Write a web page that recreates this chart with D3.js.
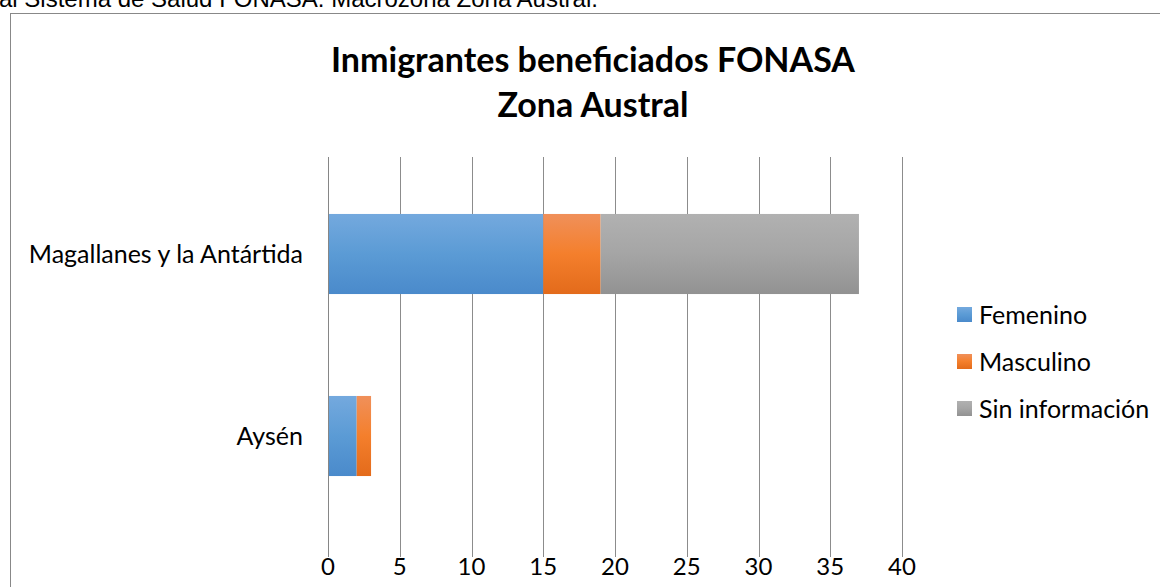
<!DOCTYPE html>
<html lang="es">
<head>
<meta charset="UTF-8">
<title>Inmigrantes beneficiados FONASA - Zona Austral</title>
<script src="https://d3js.org/d3.v7.min.js"></script>
<style>
  body, html { margin: 0; padding: 0; background: #fff; overflow: hidden; }
  svg { display: block; }
  .lbl { font-family: Lato, "Noto Sans", sans-serif; fill: #000; }
</style>
</head>
<body>
<svg></svg>
<script>
  // data
  const regions = ["Magallanes y la Antártida", "Aysén"];
  const series = ["Femenino", "Masculino", "Sin información"];
  const femenino = [15, 2];
  const masculino = [4, 1];
  const sinInfo = [18, 0];
  const xTicks = [0, 5, 10, 15, 20, 25, 30, 35, 40];

  const width = 1160, height = 587;
  const plot = { left: 328, right: 902, top: 157, bottom: 557 };

  const svg = d3.select("svg").attr("width", width).attr("height", height);

  // gradients like the office-style fills
  const grads = [
    { id: "gFem", stops: ["#74a9de", "#5b9bd5", "#4a8acb"] },
    { id: "gMas", stops: ["#f0905a", "#f47f2c", "#e36b1b"] },
    { id: "gSin", stops: ["#b1b1b1", "#a5a5a5", "#929292"] }
  ];
  const defs = svg.append("defs");
  grads.forEach(g => {
    const lg = defs.append("linearGradient").attr("id", g.id)
      .attr("x1", 0).attr("y1", 0).attr("x2", 0).attr("y2", 1);
    g.stops.forEach((c, i) => lg.append("stop")
      .attr("offset", (i / (g.stops.length - 1) * 100) + "%").attr("stop-color", c));
  });
  const fills = ["url(#gFem)", "url(#gMas)", "url(#gSin)"];

  // page text cut off above the chart box
  svg.append("text")
    .attr("x", -1).attr("y", 7)
    .style("font-family", "'Liberation Sans', Arial, sans-serif")
    .style("font-size", "24px")
    .text("al Sistema de Salud FONASA. Macrozona Zona Austral.");

  // chart border (runs off the page to the right and bottom)
  svg.append("rect")
    .attr("x", 10.5).attr("y", 13.5)
    .attr("width", 1200).attr("height", 620)
    .attr("fill", "none").attr("stroke", "#888").attr("stroke-width", 1);

  // title
  const title = svg.append("text").attr("class", "lbl")
    .attr("text-anchor", "middle")
    .style("font-weight", "bold").style("font-size", "34px");
  title.append("tspan").attr("x", 593).attr("y", 72).text("Inmigrantes beneficiados FONASA");
  title.append("tspan").attr("x", 593).attr("y", 117).text("Zona Austral");

  const x = d3.scaleLinear().domain([0, 40]).range([plot.left, plot.right]);
  const y = d3.scaleBand().domain(regions)
    .range([163, 527]).paddingInner(0.56).paddingOuter(0.28);

  // vertical gridlines
  svg.append("g").selectAll("line")
    .data(xTicks.filter(d => d > 0))
    .join("line")
    .attr("x1", d => Math.round(x(d)) + 0.5).attr("x2", d => Math.round(x(d)) + 0.5)
    .attr("y1", plot.top).attr("y2", plot.bottom)
    .attr("stroke", "#8c8c8c").attr("stroke-width", 1);

  // stacked bars
  const rows = regions.map((r, i) => ({ region: r, values: [femenino[i], masculino[i], sinInfo[i]] }));
  const stack = d3.stack().keys([0, 1, 2]).value((d, k) => d.values[k]);
  const layers = stack(rows);

  svg.append("g").selectAll("g")
    .data(layers)
    .join("g")
    .attr("fill", (d, i) => fills[i])
    .selectAll("rect")
    .data(d => d)
    .join("rect")
    .attr("x", d => x(d[0]))
    .attr("y", d => y(d.data.region))
    .attr("width", d => x(d[1]) - x(d[0]))
    .attr("height", y.bandwidth());

  // category axis line
  svg.append("line")
    .attr("x1", plot.left + 0.5).attr("x2", plot.left + 0.5)
    .attr("y1", plot.top).attr("y2", plot.bottom)
    .attr("stroke", "#868686").attr("stroke-width", 1);

  // category labels
  svg.append("g").selectAll("text")
    .data(regions)
    .join("text").attr("class", "lbl")
    .attr("x", 303)
    .attr("y", d => y(d) + y.bandwidth() / 2)
    .attr("dy", "0.35em")
    .attr("text-anchor", "end")
    .style("font-size", "25px")
    .text(d => d);

  // value tick labels
  svg.append("g").selectAll("text")
    .data(xTicks)
    .join("text").attr("class", "lbl")
    .attr("x", d => x(d))
    .attr("y", 575)
    .attr("text-anchor", "middle")
    .style("font-size", "24px")
    .text(d => d);

  // legend
  const legend = svg.append("g").selectAll("g")
    .data(series)
    .join("g")
    .attr("transform", (d, i) => `translate(957, ${307 + i * 47})`);
  legend.append("rect")
    .attr("width", 15).attr("height", 15)
    .attr("fill", (d, i) => fills[i]);
  legend.append("text").attr("class", "lbl")
    .attr("x", 22).attr("y", 8).attr("dy", "0.35em")
    .style("font-size", "25px")
    .text(d => d);
</script>
</body>
</html>
